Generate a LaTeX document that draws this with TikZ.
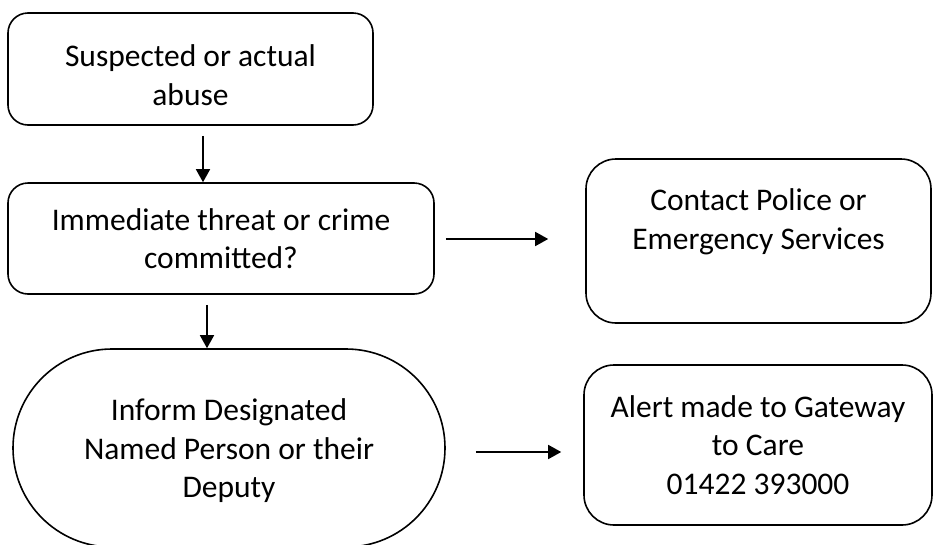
\documentclass[tikz,border=0pt]{standalone}
\usepackage{fontspec}
\setmainfont{Carlito}
\usetikzlibrary{arrows.meta,shapes.misc}
\begin{document}
\begin{tikzpicture}[x=1pt,y=-1pt,
  txt/.style={font=\fontsize{31.5}{38.5}\selectfont, align=center, inner sep=0pt},
  boxa/.style={draw, line width=1.6pt, rounded corners=20pt, inner sep=0pt, txt},
  boxb/.style={draw, line width=1.6pt, rounded corners=30pt, inner sep=0pt, txt},
  stad/.style={draw, line width=1.6pt, rounded rectangle, inner sep=0pt, txt},
  arr/.style={line width=1.6pt, -{Triangle[length=13pt,width=14pt]}}]
\useasboundingbox[fill=white] (0,0) rectangle (935,544);
\node[boxa, minimum width=365pt, minimum height=112pt] (b1) at (190.5,69) {};
\node[txt] (t1) at (190.5,75) {Suspected or actual\\abuse};
\node[boxa, minimum width=426pt, minimum height=111pt] (b2) at (221,238.5) {Immediate threat or crime\\committed?};
\node[boxb, minimum width=345pt, minimum height=164pt] (b3) at (758.5,241) {};
\node[txt] (t3) at (758.5,222) {Contact Police or\\Emergency Services};
\node[stad, minimum width=432pt, minimum height=198pt] (st) at (229,448) {};
\node[txt] (ts) at (229,451) {Inform Designated\\Named Person or their\\Deputy};
\node[boxb, minimum width=348pt, minimum height=160pt] (b4) at (758,445) {Alert made to Gateway\\to Care\\01422 393000};
\draw[arr] ([xshift=12.5pt,yshift=-10pt]b1.south) -- ([xshift=12.5pt]b1.south |- b2.north);
\draw[arr] ([xshift=11pt,yshift=-0.5pt]b2.east) -- ([xshift=-37pt,yshift=-0.5pt]b3.west |- b2.east);
\draw[arr] ([xshift=-14pt,yshift=-10pt]b2.south) -- ([xshift=-14pt]b2.south |- st.north);
\draw[arr] ([xshift=30pt,yshift=-4pt]st.east) -- ([xshift=-22pt,yshift=-4pt]b4.west |- st.east);
\end{tikzpicture}
\end{document}
